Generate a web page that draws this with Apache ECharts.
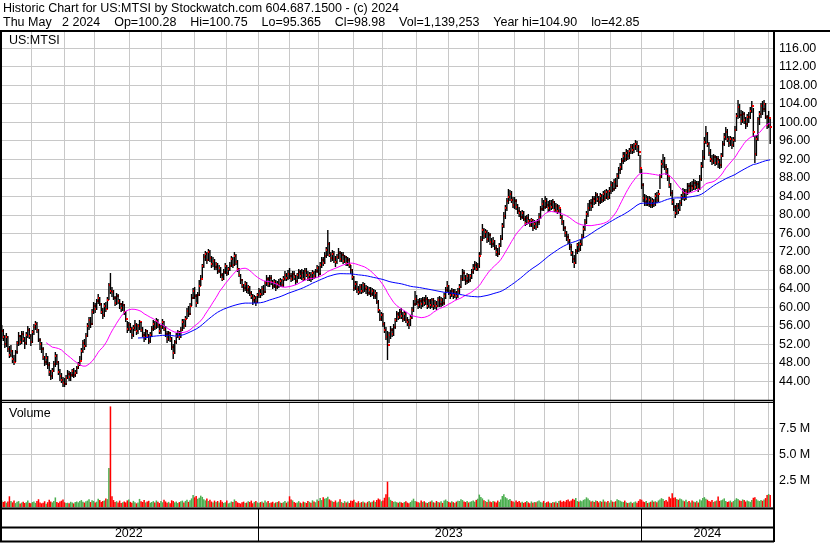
<!DOCTYPE html>
<html><head><meta charset="utf-8">
<script src="https://cdn.jsdelivr.net/npm/echarts@6/dist/echarts.min.js"></script>
<style>html,body{margin:0;padding:0;background:#fff;overflow:hidden}#c{width:830px;height:543px}</style>
</head><body><div id="c"></div><script>
// ---- data ----
const closes = [
54.8,53.5,52.2,53.6,51.0,49.8,50.5,48.9,48.2,50.4,
52.3,53.8,52.6,54.2,53.1,52.4,54.0,55.2,53.9,52.5,
54.6,55.8,56.4,55.1,53.0,52.1,51.0,49.3,48.2,49.0,
47.6,46.0,45.2,46.3,47.8,49.5,48.2,46.0,45.1,44.3,
43.6,43.5,44.8,45.6,44.9,45.3,46.2,45.4,45.8,46.9,
47.6,48.4,50.6,52.3,51.6,53.8,55.9,57.2,56.4,58.9,
60.4,59.6,61.3,62.0,60.8,59.1,58.3,60.2,59.7,61.5,
64.8,63.6,63.4,62.1,61.0,62.5,61.4,60.7,59.8,60.6,
59.0,57.4,55.3,56.1,55.4,54.0,55.6,56.3,54.8,55.9,
56.8,55.2,54.1,53.6,54.8,53.9,52.8,54.0,55.3,56.5,
55.8,57.1,56.2,54.9,55.7,56.8,55.4,54.3,53.1,54.4,
53.2,51.4,50.2,52.5,53.8,54.6,53.7,55.2,56.9,56.0,
57.6,59.3,58.6,60.4,62.1,63.5,62.4,60.9,62.7,64.6,
66.2,68.9,70.8,71.5,70.2,71.9,70.6,69.4,70.1,68.7,
69.3,67.8,68.5,66.9,66.2,67.7,68.9,67.4,68.2,69.0,
70.4,69.2,71.0,69.8,68.3,67.1,65.9,64.8,64.1,65.0,
63.7,64.3,63.2,62.4,61.5,62.0,61.2,62.6,63.5,62.8,
64.0,63.4,65.2,66.1,65.0,66.3,65.4,64.6,65.5,64.3,
65.1,64.8,65.7,64.9,66.2,67.0,66.4,67.3,66.8,66.1,
67.2,66.5,65.8,66.9,67.6,66.7,67.5,66.2,67.9,67.1,
66.4,67.0,66.3,67.4,66.8,67.9,68.5,67.2,69.1,70.3,
69.6,71.2,72.4,73.8,71.3,70.6,71.5,70.4,69.8,70.9,
71.7,70.5,71.4,70.1,70.8,69.6,70.3,69.2,68.0,66.5,
64.2,65.1,64.0,63.4,64.5,63.6,64.8,63.9,64.2,63.1,
63.8,62.9,63.6,62.5,63.1,61.2,59.4,57.6,58.3,56.4,
55.2,53.6,51.8,54.0,55.1,54.3,55.8,57.2,58.6,57.9,
58.9,58.2,57.5,58.6,57.3,56.8,56.2,57.8,59.4,60.8,
61.9,61.2,60.5,61.4,60.7,61.6,60.9,61.8,60.4,61.3,
60.6,61.5,60.2,61.0,60.3,61.7,60.8,61.6,60.9,62.4,
63.8,64.6,63.2,62.7,63.5,62.6,63.2,62.4,63.6,64.3,
66.2,67.5,66.4,65.6,66.8,65.9,66.7,67.6,68.5,69.2,
68.4,69.0,71.2,74.6,76.8,75.4,76.2,74.8,75.6,74.1,
73.6,74.4,72.9,72.0,71.6,73.2,74.8,77.6,79.8,81.4,
82.9,83.8,84.6,83.2,82.1,83.0,81.7,80.9,80.3,79.6,
80.4,79.1,78.3,79.4,78.6,77.9,78.8,77.2,78.1,77.4,
78.5,79.6,81.3,82.4,81.7,83.0,82.2,81.5,82.4,81.6,
82.7,81.1,82.0,80.8,81.5,79.6,78.4,77.2,76.0,75.1,
74.6,73.0,71.8,70.4,69.5,72.1,73.4,72.6,73.8,75.1,
77.0,78.4,80.2,81.5,82.6,81.8,83.4,82.9,84.2,83.5,
82.8,84.0,83.2,84.6,83.7,84.9,83.9,85.2,86.4,85.6,
87.1,86.3,88.4,89.6,90.3,91.6,92.8,92.1,93.4,92.6,
93.8,94.6,93.9,94.8,95.4,94.7,93.5,90.2,86.4,83.6,
82.8,83.5,82.4,83.2,82.1,83.0,82.3,84.0,83.3,84.6,
88.2,90.9,91.6,90.4,89.5,88.3,86.4,84.7,82.8,81.6,
80.4,81.8,81.0,82.6,83.9,84.7,83.6,84.9,86.2,85.4,
86.3,85.8,86.9,86.0,86.7,85.6,87.8,90.6,92.4,95.8,
97.4,95.2,93.4,92.1,91.6,92.4,91.2,92.0,91.5,90.8,
92.6,95.2,96.8,97.9,96.4,95.6,96.3,95.1,96.2,98.4,
101.3,103.2,101.6,100.2,101.8,100.4,99.6,101.1,101.2,102.5,
103.6,97.8,93.2,96.4,100.6,101.8,103.5,102.9,103.9,101.2,
99.4,100.9,98.98];
const highs = [
56.2,55.4,54.0,54.5,53.9,51.6,51.9,50.8,49.7,50.9,
52.8,54.6,54.1,54.9,55.0,53.6,54.7,56.0,55.6,54.2,
55.2,56.5,57.0,56.8,55.3,53.4,52.5,51.4,49.6,50.1,
49.5,48.1,46.4,47.0,48.4,50.3,49.9,48.5,46.6,45.9,
45.0,44.7,45.4,46.4,46.2,46.0,46.8,46.9,46.5,47.4,
48.3,49.5,51.2,52.9,53.1,54.5,56.7,57.9,58.0,59.6,
61.2,61.0,61.8,62.9,62.3,61.0,59.9,60.9,61.1,62.2,
65.3,67.4,64.5,63.8,62.4,63.1,62.8,61.9,60.9,61.4,
60.7,59.2,57.1,56.8,56.6,55.7,56.1,57.2,56.6,56.4,
57.3,56.9,55.8,54.7,55.4,55.2,54.3,54.6,55.9,57.2,
57.0,57.8,57.6,56.5,56.3,57.5,57.1,55.9,54.8,54.9,
54.7,53.5,52.0,53.0,54.4,55.2,55.0,55.8,57.5,57.4,
58.2,59.9,60.2,61.0,62.8,64.2,64.5,62.9,63.3,66.0,
67.0,69.4,71.6,72.2,72.0,72.6,72.3,71.0,70.8,70.4,
69.8,69.6,69.1,68.8,67.5,68.2,69.5,69.2,68.8,69.7,
71.1,70.9,72.0,71.5,70.2,68.6,67.3,66.2,65.0,65.6,
65.4,64.9,64.7,63.6,62.9,62.7,62.4,63.1,64.2,64.0,
64.6,64.8,65.8,66.9,66.5,67.0,66.9,66.0,66.2,65.9,
65.7,66.1,66.3,66.2,66.8,67.8,67.5,68.1,68.6,67.4,
67.8,67.9,67.0,67.5,68.4,68.0,68.2,68.0,68.5,68.6,
67.8,67.6,67.7,68.0,67.9,68.4,69.2,68.9,69.7,70.9,
70.8,71.9,73.1,76.8,74.2,72.0,72.3,72.1,71.0,71.5,
72.9,72.2,72.0,71.9,71.4,71.1,70.9,70.7,69.1,68.4,
66.7,65.8,65.6,64.6,65.1,65.0,65.5,65.2,64.9,64.6,
64.4,64.3,64.1,64.0,63.7,63.3,61.6,59.5,59.0,58.8,
56.9,55.7,54.8,54.6,55.9,55.6,56.4,57.8,59.3,59.1,
59.6,59.8,58.9,59.2,59.0,57.9,57.4,58.4,60.1,61.5,
63.5,62.6,61.8,62.0,62.1,62.3,62.2,62.7,62.2,61.9,
61.8,62.0,62.1,61.6,61.4,62.3,62.4,62.2,62.0,63.1,
64.4,65.8,64.9,63.8,64.1,64.0,63.9,63.5,64.2,65.1,
66.9,68.4,68.0,67.1,67.4,67.3,67.3,68.2,69.3,70.0,
69.8,69.6,72.0,75.5,78.0,77.2,77.0,76.7,76.3,76.0,
74.9,75.2,74.6,73.4,72.8,73.9,75.6,78.3,80.5,82.1,
83.6,85.6,85.3,85.2,83.9,83.8,83.5,82.4,81.6,80.8,
81.1,80.9,79.7,80.0,80.1,79.2,79.4,79.1,78.8,78.6,
79.0,80.3,82.0,83.6,83.2,84.0,83.7,83.0,83.1,83.2,
83.5,83.0,82.6,82.4,82.1,81.3,80.0,78.9,77.6,76.6,
75.9,74.8,73.6,72.2,71.3,72.6,74.0,74.2,74.5,75.8,
77.6,79.1,80.9,82.6,83.3,83.4,84.0,84.1,84.9,84.8,
84.0,84.7,84.6,85.2,85.3,85.6,85.4,85.9,87.2,87.0,
87.8,87.9,89.1,90.4,91.2,92.3,93.6,93.5,94.3,94.0,
94.5,95.3,95.2,95.6,96.2,96.0,95.1,93.0,89.8,86.9,
84.4,84.2,84.0,84.1,83.8,83.6,83.5,84.7,84.9,85.3,
88.9,91.8,93.2,92.4,91.0,90.1,88.2,86.9,85.3,83.5,
82.2,82.5,82.6,83.2,84.6,85.8,85.5,85.6,86.8,86.9,
87.0,87.2,87.8,87.6,87.4,87.3,88.5,91.3,94.0,96.9,
99.2,97.9,95.8,94.2,93.0,93.2,92.9,92.7,92.6,92.1,
93.3,96.0,97.7,99.0,98.6,97.1,97.0,96.8,96.9,99.1,
102.0,104.9,103.9,102.6,102.5,102.3,101.2,101.8,102.2,103.2,
104.6,103.1,97.0,97.3,101.2,102.5,104.2,104.6,104.8,104.1,
101.6,102.4,100.75];
const lows = [
53.1,52.8,51.3,51.4,50.4,49.1,49.3,48.0,47.5,48.1,
50.0,51.7,51.9,52.0,52.5,51.1,51.8,53.3,53.2,51.7,
52.3,54.0,55.1,54.4,52.6,50.9,50.2,48.7,47.3,47.5,
46.8,45.1,44.3,44.6,46.1,47.2,47.6,45.3,44.2,43.6,
42.9,42.85,43.2,44.5,44.1,44.2,44.9,44.8,45.0,45.6,
46.7,47.3,48.6,50.1,50.8,51.4,53.5,55.2,55.5,56.3,
58.5,58.8,59.4,60.7,60.2,58.5,57.6,58.0,58.9,59.6,
61.7,62.8,62.3,61.5,60.2,60.6,60.8,59.6,59.1,59.3,
58.4,56.9,54.4,54.8,54.5,53.2,53.7,55.0,54.1,54.3,
55.2,54.6,53.5,52.6,53.0,53.3,52.1,52.4,53.7,54.9,
55.1,55.4,55.6,54.3,54.2,55.3,54.9,53.6,52.4,52.7,
52.6,50.8,48.9,50.0,52.1,53.4,53.0,53.4,55.0,55.3,
55.7,57.4,57.9,58.3,60.2,61.8,61.9,60.0,60.8,62.5,
64.7,66.3,68.6,70.1,69.4,70.0,69.9,68.6,68.8,68.1,
68.0,67.2,67.5,66.3,65.6,65.9,67.2,66.8,67.0,67.9,
68.7,68.6,69.0,69.1,67.7,66.5,65.1,64.2,63.3,63.5,
63.1,63.0,62.5,61.8,60.6,60.9,60.3,60.9,62.0,62.1,
62.4,62.7,63.1,64.6,64.3,64.5,64.8,64.0,64.1,63.6,
63.9,64.2,64.4,64.3,64.5,65.6,65.8,66.0,66.1,65.5,
65.7,65.9,64.9,65.3,66.2,66.1,66.0,65.6,65.9,66.5,
65.7,65.8,65.5,65.9,66.1,66.3,67.4,66.6,67.0,68.6,
68.9,69.4,70.6,71.0,70.8,69.9,70.0,69.6,68.7,69.3,
70.4,69.8,69.9,69.4,69.5,68.9,69.0,68.5,67.3,66.0,
63.5,63.8,63.2,62.6,62.9,63.0,63.1,63.3,63.0,62.4,
62.6,62.2,62.4,61.9,61.8,60.7,58.8,57.0,57.1,55.8,
54.5,52.9,48.6,52.3,53.2,53.6,53.9,55.4,56.9,57.2,
57.5,57.6,56.8,57.0,56.7,55.9,55.4,55.9,57.6,59.0,
60.4,60.5,59.7,59.9,59.6,60.1,60.2,60.6,59.7,59.9,
59.6,59.9,59.5,59.7,59.4,60.0,60.1,60.0,60.2,60.5,
61.9,63.4,62.6,61.9,62.2,61.8,62.0,61.6,62.1,63.0,
64.1,65.8,65.7,64.8,65.0,65.2,65.4,66.1,67.2,68.0,
67.9,67.8,68.6,71.4,74.3,74.8,74.9,73.9,74.1,73.5,
72.8,73.0,72.3,71.2,70.8,71.3,73.0,74.6,77.1,79.2,
80.8,82.4,82.9,82.6,81.4,81.3,81.0,80.2,79.5,78.8,
79.0,78.6,77.5,77.8,78.0,77.3,77.4,76.5,76.9,76.7,
77.1,77.8,79.1,80.8,80.9,81.2,81.5,80.7,80.9,81.0,
81.2,80.5,80.6,80.1,80.3,79.0,77.8,76.5,75.3,74.4,
73.8,72.3,71.1,69.6,68.5,69.3,71.6,72.0,72.2,73.3,
74.9,76.6,78.0,79.6,80.9,80.9,81.5,82.2,82.4,82.7,
82.0,82.3,82.5,82.8,83.0,83.4,83.1,83.5,84.6,84.9,
85.2,85.6,86.0,87.8,88.9,89.7,91.0,91.3,91.6,91.8,
92.0,93.2,93.1,93.3,94.0,93.6,92.8,89.1,85.6,82.7,
82.0,81.9,81.8,81.7,81.4,81.5,81.6,82.0,82.6,82.8,
85.6,87.9,90.2,89.6,88.6,87.4,85.7,84.0,82.1,80.8,
79.4,79.9,80.2,80.8,82.0,83.2,82.9,83.1,84.3,84.8,
85.0,85.1,85.3,85.4,85.6,85.0,85.4,87.4,90.1,91.8,
95.3,94.6,92.7,91.4,90.8,90.9,90.5,90.8,90.2,89.8,
90.2,92.4,94.9,96.1,95.7,94.6,94.9,94.3,94.6,95.8,
98.0,100.6,101.0,99.4,99.8,99.6,98.5,99.0,99.8,100.6,
102.0,96.9,91.2,92.6,96.0,99.4,101.0,101.6,102.1,100.6,
98.5,98.7,95.365];
// volume in millions of shares
const volumes = [
0.62,0.48,0.55,0.41,0.52,1.02,0.58,0.44,0.61,0.37,
0.49,0.56,0.33,0.42,0.51,0.38,0.45,0.63,0.40,0.36,
0.47,0.52,0.39,0.58,0.74,0.43,0.35,0.41,0.55,0.32,
0.46,0.68,0.52,0.44,0.57,0.91,0.48,0.39,0.53,0.60,
0.72,0.45,0.38,0.41,0.36,0.50,0.43,0.34,0.47,0.52,
0.44,0.58,0.66,0.49,0.42,0.55,0.61,0.73,0.47,0.64,
0.58,0.42,0.51,0.78,0.66,0.49,0.56,0.62,0.81,0.75,
3.72,9.58,1.02,0.66,0.48,0.55,0.42,0.61,0.38,0.45,
0.52,0.44,0.63,0.71,0.49,0.40,0.58,0.46,0.35,0.42,
0.77,0.54,0.48,0.66,0.43,0.52,0.59,0.41,0.47,0.56,
0.44,0.62,0.50,0.38,0.57,0.45,0.68,0.53,0.41,0.49,
0.36,0.64,0.58,0.44,0.52,0.39,0.47,0.55,0.61,0.43,
0.58,0.70,0.49,0.64,0.82,1.15,0.92,1.05,0.78,0.88,
1.08,0.96,0.74,0.63,0.81,0.57,0.69,0.52,0.44,0.61,
0.48,0.57,0.42,0.66,0.51,0.38,0.45,0.62,0.35,0.41,
0.53,0.47,0.72,0.58,0.44,0.39,0.33,0.46,0.51,0.37,
0.42,0.55,0.48,0.61,0.36,0.49,0.58,0.44,0.39,0.47,
0.52,0.41,0.63,0.45,0.57,0.38,0.44,0.50,0.36,0.43,
0.48,0.55,0.42,0.37,0.46,0.58,0.41,0.53,1.02,0.72,
0.63,0.47,0.39,0.44,0.56,0.42,0.35,0.51,0.46,0.38,
0.57,0.49,0.41,0.64,0.52,0.45,0.71,0.58,0.86,0.66,
0.92,0.79,0.84,0.98,0.73,0.61,0.54,0.47,0.62,0.43,
0.51,0.75,0.48,0.39,0.56,0.44,0.52,0.37,0.61,0.58,
0.69,0.46,0.41,0.55,0.38,0.47,0.52,0.43,0.36,0.49,
0.57,0.44,0.51,0.62,0.48,0.66,0.81,0.72,0.55,0.63,
0.88,1.21,2.42,0.94,0.68,0.57,0.49,0.53,0.46,0.41,
0.50,0.44,0.38,0.47,0.55,0.42,0.36,0.48,0.61,0.79,
0.58,0.52,0.46,0.41,0.63,0.49,0.55,0.44,0.38,0.47,
0.52,0.61,0.45,0.40,0.57,0.48,0.43,0.54,0.39,0.62,
0.71,0.58,0.49,0.42,0.55,0.46,0.38,0.51,0.60,0.57,
0.74,0.66,0.52,0.47,0.58,0.43,0.49,0.55,0.62,0.51,
0.68,0.79,1.18,0.96,0.82,0.65,0.57,0.48,0.71,0.53,
0.46,0.58,0.52,0.44,0.61,0.49,0.72,1.05,1.22,0.94,
0.83,0.68,0.76,0.59,0.52,0.45,0.63,0.48,0.56,0.42,
0.51,0.39,0.47,0.58,0.44,0.36,0.53,0.41,0.48,0.45,
0.55,0.62,0.49,0.43,0.58,0.39,0.46,0.52,0.41,0.37,
0.48,0.44,0.53,0.39,0.56,0.62,0.47,0.58,0.51,0.66,
0.72,0.54,0.61,0.78,0.69,0.85,0.57,0.49,0.62,0.55,
0.68,0.74,0.92,0.81,0.65,0.52,0.59,0.47,0.63,0.56,
0.44,0.58,0.49,0.71,0.53,0.46,0.57,0.42,0.64,0.51,
0.48,0.55,0.73,0.66,0.59,0.52,0.47,0.61,0.44,0.39,
0.42,0.50,0.37,0.46,0.53,0.41,0.58,0.74,0.69,0.52,
0.47,0.56,0.38,0.44,0.51,0.63,0.49,0.55,0.46,0.62,
0.71,0.84,0.76,0.58,0.66,0.52,0.97,0.83,1.32,0.88,
0.92,0.77,0.69,0.81,0.74,0.62,0.55,0.68,0.49,0.57,
0.43,0.61,0.52,0.46,0.58,0.44,0.72,0.63,0.86,0.94,
0.78,0.69,0.57,0.51,0.66,0.48,0.55,0.62,0.99,0.58,
0.64,0.71,0.82,0.56,0.48,0.53,0.61,0.45,0.57,0.69,
0.84,0.76,0.63,0.58,0.72,0.66,0.52,0.61,0.55,0.49,
0.67,0.88,0.93,0.74,0.62,0.57,0.66,0.59,0.71,0.85,
1.14,1.24,1.14];
const priceTickLabels = [44,48,52,56,60,64,68,72,76,80,84,88,92,96,100,104,108,112,116];
const volumeTickLabels = [2.5,5.0,7.5];
const maPeriods = [30, 90];
const firstDay = [2022, 4, 3], lastDay = [2024, 4, 2];
const holidays = ['2022-05-30','2022-06-20','2022-07-04','2022-09-05','2022-11-24','2022-12-26',
 '2023-01-02','2023-01-16','2023-02-20','2023-04-07','2023-05-29','2023-06-19','2023-07-04','2023-09-04','2023-11-23','2023-12-25',
 '2024-01-01','2024-01-15','2024-02-19','2024-03-29'];
const titleLine1 = 'Historic Chart for US:MTSI by Stockwatch.com 604.687.1500 - (c) 2024';
const titleLine2 = 'Thu May   2 2024    Op=100.28    Hi=100.75    Lo=95.365    Cl=98.98    Vol=1,139,253    Year hi=104.90    lo=42.85';

// ---- trading dates ----
const dates = [];
for (let t = Date.UTC(...firstDay); t <= Date.UTC(...lastDay); t += 86400000) {
  const d = new Date(t), wd = d.getUTCDay(), s = d.toISOString().slice(0, 10);
  if (wd === 0 || wd === 6 || holidays.includes(s)) continue;
  dates.push(s);
}
const N = closes.length;
const cats = dates.slice(0, N).concat(['pad1', 'pad2']);
const monthStart = new Set(), yearStart = new Set();
for (let i = 1; i < N; i++) {
  if (cats[i].slice(0, 7) !== cats[i - 1].slice(0, 7)) monthStart.add(i);
  if (cats[i].slice(0, 4) !== cats[i - 1].slice(0, 4)) yearStart.add(i);
}
const ys = [0, ...yearStart, cats.length];
const yearMid = new Map();
for (let k = 0; k < ys.length - 1; k++) yearMid.set(Math.floor((ys[k] + ys[k + 1] - 1) / 2), cats[ys[k]].slice(0, 4));

function sma(arr, n) {
  const out = []; let s = 0;
  for (let i = 0; i < arr.length; i++) { s += arr[i]; if (i >= n) s -= arr[i - n]; out.push(i >= n - 1 ? +(s / n).toFixed(3) : null); }
  return out;
}

// ---- font ----
function hasFont(name) {
  const c = document.createElement('canvas').getContext('2d'), s = 'Historic 116.00 WMIabc';
  c.font = '40px monospace'; const a = c.measureText(s).width;
  c.font = "40px '" + name + "', monospace"; const b = c.measureText(s).width;
  return Math.abs(a - b) > 0.5;
}
let FONT, FS;
if (hasFont('Liberation Sans Narrow')) { FONT = "'Liberation Sans Narrow'"; FS = 15; }
else if (hasFont('Arial Narrow')) { FONT = "'Arial Narrow'"; FS = 15; }
else { FONT = "'Liberation Sans', Arial, sans-serif"; FS = 12.5; }
const txt = { fontFamily: FONT, fontSize: FS, color: '#000', fontWeight: 'normal' };

const GRID = '#c8c8c8';
const L = 1, W = 773;
const chart = echarts.init(document.getElementById('c'), null, { renderer: 'canvas' });

function xAx(gi, extra) {
  return Object.assign({
    type: 'category', gridIndex: gi, data: cats, boundaryGap: true,
    axisLine: { show: false }, axisTick: { show: false }, axisLabel: { show: false },
    splitLine: { show: true, interval: (i) => monthStart.has(i), lineStyle: { color: GRID, width: 1 } }
  }, extra || {});
}

const ohlc = closes.map((c, i) => [i, lows[i], highs[i], c]);
const line = (x1, y1, x2, y2, w) => ({ type: 'line', z: 100, silent: true, shape: { x1, y1, x2, y2 }, style: { stroke: '#000', lineWidth: w } });

chart.setOption({
  animation: false,
  backgroundColor: '#fff',
  title: [
    { text: titleLine1, left: 3, top: 1, padding: 0, textStyle: Object.assign({ lineHeight: 15 }, txt) },
    { text: titleLine2, left: 3, top: 15, padding: 0, textStyle: Object.assign({ lineHeight: 15 }, txt) },
    { text: 'US:MTSI', left: 9, top: 33, padding: 0, textStyle: Object.assign({ lineHeight: 15 }, txt) },
    { text: 'Volume', left: 9, top: 406, padding: 0, textStyle: Object.assign({ lineHeight: 15 }, txt) }
  ],
  grid: [
    { left: L, top: 31, width: W, height: 369, outerBoundsMode: 'none' },
    { left: L, top: 402, width: W, height: 105, outerBoundsMode: 'none' },
    { left: L, top: 509, width: W, height: 32, outerBoundsMode: 'none' }
  ],
  xAxis: [
    xAx(0), xAx(1),
    xAx(2, {
      splitLine: { show: true, interval: (i) => yearStart.has(i), lineStyle: { color: '#000', width: 1 } },
      axisLabel: Object.assign({ show: true, inside: true, margin: 1, interval: (i) => yearMid.has(i),
        formatter: (v, i) => yearMid.get(i) || '' }, txt)
    })
  ],
  yAxis: [
    { type: 'value', gridIndex: 0, position: 'right', min: 40, max: 119.7, interval: 4,
      axisLine: { show: false }, axisTick: { show: false },
      axisLabel: Object.assign({ margin: 5, formatter: (v) => priceTickLabels.some(t => Math.abs(t - v) < 1e-6) ? v.toFixed(2) : '' }, txt),
      splitLine: { show: true, lineStyle: { color: GRID, width: 1 } } },
    { type: 'value', gridIndex: 1, position: 'right', min: 0, max: 10, interval: 2.5,
      axisLine: { show: false }, axisTick: { show: false },
      axisLabel: Object.assign({ margin: 5, formatter: (v) => volumeTickLabels.some(t => Math.abs(t - v) < 1e-6) ? v.toFixed(1) + ' M' : '' }, txt),
      splitLine: { show: true, lineStyle: { color: GRID, width: 1 } } },
    { type: 'value', gridIndex: 2, min: 0, max: 1, show: false }
  ],
  series: [
    { type: 'custom', xAxisIndex: 0, yAxisIndex: 0, data: ohlc, z: 3, clip: true,
      renderItem: (params, api) => {
        const x = api.value(0);
        const lo = api.coord([x, api.value(1)]), hi = api.coord([x, api.value(2)]), cl = api.coord([x, api.value(3)]);
        const cx = lo[0];
        return { type: 'group', children: [
          { type: 'rect', shape: { x: cx - 0.7, y: Math.round(hi[1]), width: 1.4, height: Math.max(1, Math.round(lo[1]) - Math.round(hi[1])) }, style: { fill: '#000' } },
          { type: 'rect', shape: { x: Math.round(cx), y: Math.round(cl[1]) - 1, width: 2, height: 2 }, style: { fill: '#ff0000' } }
        ] };
      } },
    { type: 'line', xAxisIndex: 0, yAxisIndex: 0, data: sma(closes, maPeriods[0]), symbol: 'none', z: 5,
      lineStyle: { color: '#ff00ff', width: 1 }, connectNulls: false },
    { type: 'line', xAxisIndex: 0, yAxisIndex: 0, data: sma(closes, maPeriods[1]), symbol: 'none', z: 5,
      lineStyle: { color: '#0000ff', width: 1 }, connectNulls: false },
    { type: 'bar', xAxisIndex: 1, yAxisIndex: 1, data: volumes, barCategoryGap: '0%',
      itemStyle: { color: (p) => (p.dataIndex === 0 || closes[p.dataIndex] >= closes[p.dataIndex - 1]) ? '#4caf50' : '#ff0000' } }
  ],
  graphic: [
    line(0, 31, 830, 31, 2),
    line(1, 31, 1, 542, 2),
    line(774, 31, 774, 542, 2),
    line(0, 400.5, 774, 400.5, 1.5),
    line(0, 402.5, 774, 402.5, 1),
    line(0, 508.5, 774, 508.5, 2),
    line(0, 527.5, 774, 527.5, 2),
    line(0, 541.5, 774, 541.5, 2)
  ]
});
</script></body></html>
